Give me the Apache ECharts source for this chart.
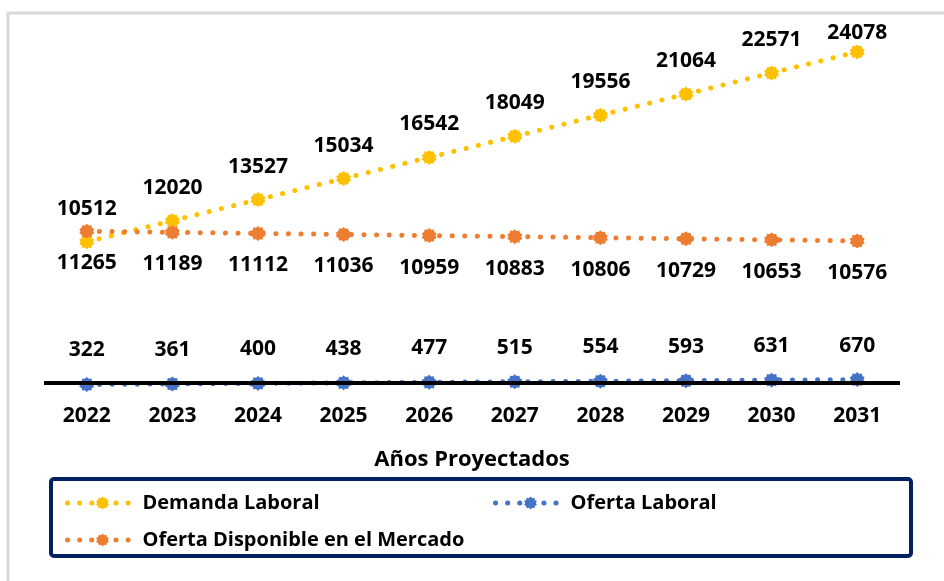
<!DOCTYPE html>
<html>
<head>
<meta charset="utf-8">
<script src="https://cdn.jsdelivr.net/npm/echarts@6/dist/echarts.min.js"></script>
<style>
  html, body { margin: 0; padding: 0; background: #fff; }
  #main { width: 944px; height: 581px; }
</style>
</head>
<body>
<div id="main"></div>
<script>
var years = ["2022", "2023", "2024", "2025", "2026", "2027", "2028", "2029", "2030", "2031"];
var demanda = [10512, 12020, 13527, 15034, 16542, 18049, 19556, 21064, 22571, 24078];
var ofertaDisponible = [11265, 11189, 11112, 11036, 10959, 10883, 10806, 10729, 10653, 10576];
var ofertaLaboral = [322, 361, 400, 438, 477, 515, 554, 593, 631, 670];
var ejeBase = 430; // donde cruza el eje horizontal

// marcador tipo "estrella" como el de Excel
function burst(n, r1, r2) {
  var d = "";
  for (var i = 0; i < n * 2; i++) {
    var r = i % 2 === 0 ? r1 : r2;
    var a = (Math.PI * i) / n;
    var x = (50 + r * Math.sin(a)).toFixed(2);
    var y = (50 - r * Math.cos(a)).toFixed(2);
    d += (i === 0 ? "M" : "L") + x + " " + y + " ";
  }
  return "path://" + d + "Z";
}
var marker = burst(10, 50, 40);

var font = "'Open Sans', 'Noto Sans', sans-serif";
var dots = [0.1, 12.5];

function serie(name, data, color, pos, dist, z) {
  return {
    name: name,
    type: "line",
    data: data,
    z: z,
    symbol: marker,
    symbolSize: 15,
    itemStyle: { color: color },
    lineStyle: { color: color, width: 5, type: dots, cap: "round" },
    label: {
      show: true,
      position: pos,
      distance: dist,
      color: "#000",
      fontFamily: font,
      fontWeight: "bold",
      fontSize: 21,
    },
  };
}

var chart = echarts.init(document.getElementById("main"));

// la ultima etiqueta de la demanda queda mas pegada al punto (borde del grafico)
var demandaData = demanda.map(function (v, i) {
  if (i === demanda.length - 1) return { value: v, label: { distance: 1 } };
  return v;
});

var seriesList = [
  serie("Demanda Laboral", demandaData, "#FFC000", "top", 15, 3),
  serie("Oferta Laboral", ofertaLaboral, "#4472C4", "top", 16, 4),
  serie("Oferta Disponible en el Mercado", ofertaDisponible, "#ED7D31", "bottom", 14, 3),
];
seriesList[0].markLine = {
  silent: true,
  symbol: "none",
  label: { show: false },
  lineStyle: { color: "#000", width: 4, type: "solid" },
  data: [{ yAxis: ejeBase }],
};

var legendText = { fontFamily: font, fontWeight: "bold", fontSize: 20, color: "#000" };
function leyenda(name, left, top) {
  return {
    data: [name],
    left: left,
    top: top,
    itemWidth: 70,
    itemHeight: 16,
    itemGap: 10,
    textStyle: legendText,
    lineStyle: { width: 5, type: [0.1, 12], cap: "round" },
  };
}

var option = {
  animation: false,
  backgroundColor: "#fff",
  grid: { left: 44, right: 44, top: 25, bottom: 192 },
  xAxis: {
    type: "category",
    data: years,
    boundaryGap: true,
    axisLine: { show: false },
    axisTick: { show: false },
    axisLabel: {
      margin: 17,
      color: "#000",
      fontFamily: font,
      fontWeight: "bold",
      fontSize: 21,
    },
    name: "Años Proyectados",
    nameLocation: "middle",
    nameGap: 60,
    nameTextStyle: { color: "#000", fontFamily: font, fontWeight: "bold", fontSize: 22 },
  },
  yAxis: {
    type: "value",
    min: 0,
    max: 26000,
    show: false,
    splitLine: { show: false },
  },
  legend: [
    leyenda("Demanda Laboral", 60, 488),
    leyenda("Oferta Laboral", 488, 488),
    leyenda("Oferta Disponible en el Mercado", 60, 525),
  ],
  graphic: [
    {
      type: "rect",
      silent: true,
      shape: { x: 8, y: 13, width: 960, height: 600 },
      style: { fill: "none", stroke: "#d9d9d9", lineWidth: 3 },
    },
    {
      type: "rect",
      silent: true,
      shape: { x: 51, y: 479, width: 860, height: 77, r: 3 },
      style: { fill: "none", stroke: "#002060", lineWidth: 4 },
    },
  ],
  series: seriesList,
};

chart.setOption(option);
</script>
</body>
</html>
